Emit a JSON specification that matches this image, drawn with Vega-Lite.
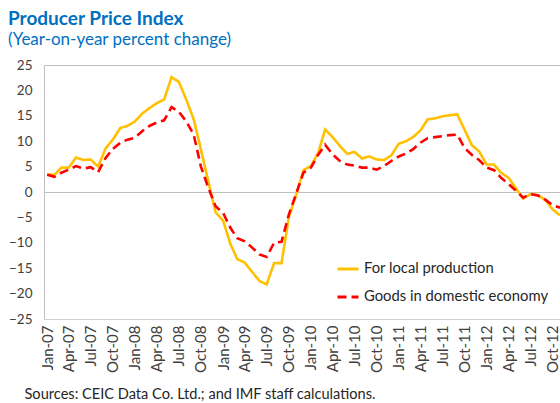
{
  "$schema": "https://vega.github.io/schema/vega-lite/v6.json",
  "width": 516,
  "height": 254,
  "autosize": {"type": "none"},
  "padding": {"left": 44, "top": 65, "right": 0, "bottom": 84},
  "background": "white",
  "config": {
    "font": "Lato",
    "view": {"stroke": null}
  },
  "title": {
    "text": "Producer Price Index",
    "subtitle": "(Year-on-year percent change)",
    "anchor": "start",
    "frame": "group",
    "dx": -36,
    "offset": 10,
    "font": "Lato",
    "fontSize": 19,
    "fontWeight": "bold",
    "color": "#0070C0",
    "subtitleFont": "Lato",
    "subtitleFontSize": 17,
    "subtitleColor": "#0070C0",
    "subtitlePadding": 3
  },
  "data": {
    "values": [
      {"date": "2007-01-01", "L": 3.5, "D": 3.4},
      {"date": "2007-02-01", "L": 3.4, "D": 3.0},
      {"date": "2007-03-01", "L": 4.8, "D": 3.8},
      {"date": "2007-04-01", "L": 4.8, "D": 4.4},
      {"date": "2007-05-01", "L": 6.8, "D": 5.1},
      {"date": "2007-06-01", "L": 6.3, "D": 4.6},
      {"date": "2007-07-01", "L": 6.4, "D": 4.9},
      {"date": "2007-08-01", "L": 5.0, "D": 3.9},
      {"date": "2007-09-01", "L": 8.6, "D": 6.7},
      {"date": "2007-10-01", "L": 10.3, "D": 8.5},
      {"date": "2007-11-01", "L": 12.6, "D": 9.7},
      {"date": "2007-12-01", "L": 13.0, "D": 10.3},
      {"date": "2008-01-01", "L": 13.9, "D": 10.7},
      {"date": "2008-02-01", "L": 15.5, "D": 12.0},
      {"date": "2008-03-01", "L": 16.5, "D": 13.0},
      {"date": "2008-04-01", "L": 17.5, "D": 13.7},
      {"date": "2008-05-01", "L": 18.2, "D": 14.1},
      {"date": "2008-06-01", "L": 22.6, "D": 16.7},
      {"date": "2008-07-01", "L": 21.7, "D": 15.8},
      {"date": "2008-08-01", "L": 18.2, "D": 13.9},
      {"date": "2008-09-01", "L": 14.3, "D": 11.3},
      {"date": "2008-10-01", "L": 8.4, "D": 5.0},
      {"date": "2008-11-01", "L": 2.0, "D": 0.8},
      {"date": "2008-12-01", "L": -4.0, "D": -2.8},
      {"date": "2009-01-01", "L": -5.6, "D": -4.1},
      {"date": "2009-02-01", "L": -10.3, "D": -7.1},
      {"date": "2009-03-01", "L": -13.2, "D": -9.1},
      {"date": "2009-04-01", "L": -13.9, "D": -9.7},
      {"date": "2009-05-01", "L": -15.7, "D": -10.9},
      {"date": "2009-06-01", "L": -17.5, "D": -12.3},
      {"date": "2009-07-01", "L": -18.2, "D": -12.8},
      {"date": "2009-08-01", "L": -14.0, "D": -10.0},
      {"date": "2009-09-01", "L": -14.0, "D": -9.8},
      {"date": "2009-10-01", "L": -5.0, "D": -4.5},
      {"date": "2009-11-01", "L": -0.5, "D": -0.3},
      {"date": "2009-12-01", "L": 4.3, "D": 3.8},
      {"date": "2010-01-01", "L": 5.1, "D": 4.8},
      {"date": "2010-02-01", "L": 7.8, "D": 7.4},
      {"date": "2010-03-01", "L": 12.3, "D": 9.3},
      {"date": "2010-04-01", "L": 10.8, "D": 7.4},
      {"date": "2010-05-01", "L": 9.1, "D": 6.1},
      {"date": "2010-06-01", "L": 7.5, "D": 5.4},
      {"date": "2010-07-01", "L": 7.9, "D": 5.2},
      {"date": "2010-08-01", "L": 6.6, "D": 4.8},
      {"date": "2010-09-01", "L": 7.0, "D": 4.8},
      {"date": "2010-10-01", "L": 6.4, "D": 4.4},
      {"date": "2010-11-01", "L": 6.3, "D": 5.1},
      {"date": "2010-12-01", "L": 7.2, "D": 6.1},
      {"date": "2011-01-01", "L": 9.5, "D": 7.0},
      {"date": "2011-02-01", "L": 10.0, "D": 7.6},
      {"date": "2011-03-01", "L": 10.8, "D": 8.4},
      {"date": "2011-04-01", "L": 12.1, "D": 9.7},
      {"date": "2011-05-01", "L": 14.3, "D": 10.6},
      {"date": "2011-06-01", "L": 14.5, "D": 10.8},
      {"date": "2011-07-01", "L": 14.9, "D": 11.0},
      {"date": "2011-08-01", "L": 15.1, "D": 11.2},
      {"date": "2011-09-01", "L": 15.3, "D": 11.3},
      {"date": "2011-10-01", "L": 12.3, "D": 8.7},
      {"date": "2011-11-01", "L": 9.2, "D": 7.3},
      {"date": "2011-12-01", "L": 8.0, "D": 6.3},
      {"date": "2012-01-01", "L": 5.4, "D": 4.8},
      {"date": "2012-02-01", "L": 5.4, "D": 4.3},
      {"date": "2012-03-01", "L": 3.8, "D": 2.8},
      {"date": "2012-04-01", "L": 2.8, "D": 1.6},
      {"date": "2012-05-01", "L": 0.8, "D": 0.3},
      {"date": "2012-06-01", "L": -1.3, "D": -1.1},
      {"date": "2012-07-01", "L": -0.4, "D": -0.4},
      {"date": "2012-08-01", "L": -0.6, "D": -0.7},
      {"date": "2012-09-01", "L": -1.6, "D": -1.5},
      {"date": "2012-10-01", "L": -3.4, "D": -2.6},
      {"date": "2012-11-01", "L": -4.6, "D": -3.1}
    ]
  },
  "transform": [
    {"fold": ["L", "D"], "as": ["key", "value"]},
    {"lookup": "key", "from": {"data": {"values": [{"key": "L", "series": "For local production"}, {"key": "D", "series": "Goods in domestic economy"}]}, "key": "key", "fields": ["series"]}}
  ],
  "mark": {"type": "line", "strokeWidth": 2.6, "clip": true},
  "encoding": {
    "x": {
      "field": "date",
      "type": "temporal",
      "scale": {"type": "utc", "domain": [{"year": 2006, "month": 12, "date": 19, "utc": true}, {"year": 2012, "month": 11, "date": 1, "utc": true}]},
      "axis": {
        "format": "%b-%y",
        "tickCount": {"interval": "month", "step": 3},
        "labelAngle": 270,
        "labelAlign": "right",
        "labelBaseline": "middle",
        "labelPadding": 6,
        "labelOverlap": false,
        "labelFlush": false,
        "labelFontSize": 15,
        "labelColor": "#404040",
        "ticks": false,
        "grid": false,
        "domainColor": "#d0d0d0",
        "title": "Sources: CEIC Data Co. Ltd.; and IMF staff calculations.",
        "titleFontSize": 14.6,
        "titleFontWeight": "normal",
        "titleColor": "#262626",
        "titleAnchor": "start",
        "titleAlign": "left",
        "titleX": -20,
        "titleY": 79,
        "titleBaseline": "alphabetic"
      }
    },
    "y": {
      "field": "value",
      "type": "quantitative",
      "scale": {"domain": [-25, 25], "nice": false, "zero": false},
      "axis": {
        "values": [-25, -20, -15, -10, -5, 0, 5, 10, 15, 20, 25],
        "title": null,
        "ticks": false,
        "labelPadding": 12,
        "labelFontSize": 13.5,
        "labelColor": "#404040",
        "domainColor": "#c0c0c0",
        "grid": true,
        "gridColor": {"condition": {"test": "datum.value === 0 || datum.value === 25", "value": "#c0c0c0"}, "value": "transparent"},
        "gridWidth": 1
      }
    },
    "color": {
      "field": "series",
      "type": "nominal",
      "scale": {"domain": ["For local production", "Goods in domestic economy"], "range": ["#FFC000", "#FF0000"]},
      "legend": {
        "title": null,
        "orient": "none",
        "legendX": 292,
        "legendY": 192,
        "symbolType": "stroke",
        "symbolSize": 440,
        "symbolStrokeWidth": 3,
        "labelFontSize": 14.8,
        "labelColor": "#262626",
        "labelOffset": 4,
        "labelLimit": 400,
        "rowPadding": 9
      }
    },
    "strokeDash": {
      "field": "series",
      "type": "nominal",
      "scale": {"domain": ["For local production", "Goods in domestic economy"], "range": [[1, 0], [9, 5]]},
      "legend": null
    }
  }
}
